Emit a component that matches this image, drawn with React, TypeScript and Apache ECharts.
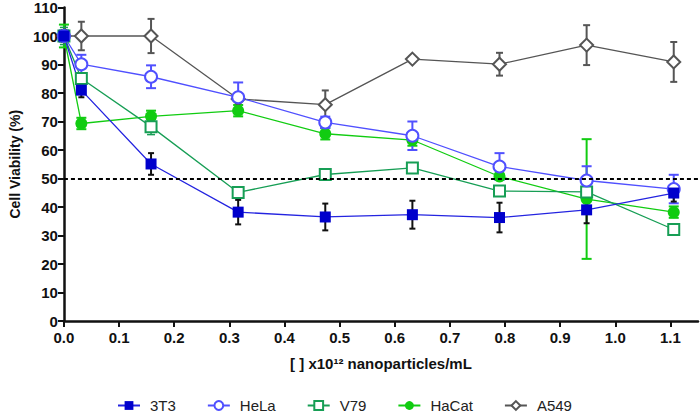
import React, { useEffect, useRef } from "react";
import * as echarts from "echarts";

const xs = [0, 0.0316, 0.158, 0.316, 0.474, 0.632, 0.79, 0.948, 1.106];
const xTicks = [0, 0.1, 0.2, 0.3, 0.4, 0.5, 0.6, 0.7, 0.8, 0.9, 1.0, 1.1];

const v3T3 = [100, 81.0, 55.1, 38.2, 36.5, 37.3, 36.3, 39.0, 44.9];
const e3T3 = [2, 2.5, 3.8, 4.3, 4.7, 4.9, 5.2, 4.7, 3];
const vHeLa = [100, 90.1, 85.7, 78.5, 69.7, 65.0, 54.2, 49.3, 46.3];
const eHeLa = [2, 3.3, 4, 5.2, 2, 5, 4.7, 5, 5];
const vV79 = [100, 85.1, 68.2, 45.1, 51.4, 53.7, 45.6, 45.3, 32.1];
const eV79 = [3, 1, 2.8, 1.5, 1, 1, 1.5, 1.5, 1];
const vHaCat = [100, 69.3, 71.8, 73.8, 65.7, 63.5, 50.7, 42.8, 38.2];
const eHaCat = [4, 2, 2, 2, 2, 2, 1, 21, 2];
const vA549 = [100, 100, 100, 77.9, 75.9, 91.9, 90.1, 96.8, 90.9];
const eA549 = [0, 5, 6, 1, 5, 1, 4, 7, 7];

const FONT = "'Liberation Sans', Arial, sans-serif";

function errSeries(name: string, vals: number[], errs: number[], color: string, cap: number, lw: number) {
  return {
    type: "custom",
    name: name + " err",
    z: 1,
    silent: true,
    data: xs.map((x, i) => [x, vals[i] - errs[i], vals[i] + errs[i]]).filter((d, i) => errs[i] > 0),
    encode: { x: 0, y: [1, 2] },
    renderItem: (params: any, api: any) => {
      const x = api.value(0);
      const p1 = api.coord([x, api.value(1)]);
      const p2 = api.coord([x, api.value(2)]);
      const h = cap / 2;
      const style = { stroke: color, lineWidth: lw };
      return {
        type: "group",
        children: [
          { type: "line", shape: { x1: p1[0], y1: p1[1], x2: p2[0], y2: p2[1] }, style },
          { type: "line", shape: { x1: p1[0] - h, y1: p1[1], x2: p1[0] + h, y2: p1[1] }, style },
          { type: "line", shape: { x1: p2[0] - h, y1: p2[1], x2: p2[0] + h, y2: p2[1] }, style },
        ],
      };
    },
  };
}

function lineSeries(name: string, vals: number[], lineColor: string, color: string, symbol: string, size: number, border: number, extra: any = {}) {
  return {
    type: "line",
    name,
    z: 3,
    data: xs.map((x, i) => [x, vals[i]]),
    symbol,
    symbolSize: size,
    showAllSymbol: true,
    lineStyle: { color: lineColor, width: 1.3 },
    itemStyle: { color, borderColor: color, borderWidth: border },
    ...extra,
  };
}

export default function App() {
  const ref = useRef<HTMLDivElement>(null);
  useEffect(() => {
    if (!ref.current) return;
    const chart = echarts.init(ref.current, undefined, { renderer: "svg" });
    chart.setOption({
      animation: false,
      backgroundColor: "#ffffff",
      grid: { left: 52, right: 2, top: 7, bottom: 97 },
      legend: {
        data: ["3T3", "HeLa", "V79", "HaCat", "A549"],
        bottom: 0,
        left: 112,
        itemWidth: 22,
        itemHeight: 11,
        itemGap: 31,
        textStyle: { fontFamily: FONT, fontSize: 15, color: "#222", padding: [0, 0, 0, 5] },
      },
      xAxis: {
        type: "value",
        min: 0,
        max: 1.15,
        name: "[ ] x10¹² nanoparticles/mL",
        nameLocation: "middle",
        nameGap: 35,
        nameTextStyle: { fontFamily: FONT, fontSize: 15, fontWeight: "bold", color: "#111" },
        axisLine: { lineStyle: { color: "#111", width: 2.5 } },
        axisTick: { show: true, length: 6, lineStyle: { color: "#111", width: 2 }, customValues: xTicks },
        axisLabel: {
          customValues: xTicks,
          formatter: (v: number) => v.toFixed(1),
          fontFamily: FONT,
          fontSize: 15,
          fontWeight: "bold",
          color: "#111",
          margin: 9,
        },
        splitLine: { show: false },
      },
      yAxis: {
        type: "value",
        min: 0,
        max: 110,
        interval: 10,
        name: "Cell Viability (%)",
        nameLocation: "middle",
        nameGap: 40,
        nameTextStyle: { fontFamily: FONT, fontSize: 14, fontWeight: "bold", color: "#111" },
        axisLine: { show: true, lineStyle: { color: "#111", width: 2.5 } },
        axisTick: { show: true, length: 6, lineStyle: { color: "#111", width: 2 } },
        axisLabel: { fontFamily: FONT, fontSize: 15, fontWeight: "bold", color: "#111", margin: 6 },
        splitLine: { show: false },
      },
      series: [
        errSeries("A549", vA549, eA549, "#555555", 7, 2),
        errSeries("HaCat", vHaCat, eHaCat, "#11CC11", 10, 2),
        errSeries("V79", vV79, eV79, "#179E55", 8, 1.5),
        errSeries("HeLa", vHeLa, eHeLa, "#5050FF", 10, 2),
        errSeries("3T3", v3T3, e3T3, "#111111", 6, 2),
        lineSeries("A549", vA549, "#555555", "#555555", "emptyDiamond", 13, 1.5, {
          markLine: {
            silent: true,
            symbol: "none",
            label: { show: false },
            lineStyle: { color: "#000", type: [4, 3], width: 2 },
            data: [{ yAxis: 50 }],
          },
        }),
        lineSeries("HaCat", vHaCat, "#11CC11", "#11CC11", "circle", 12, 0),
        lineSeries("V79", vV79, "#179E55", "#179E55", "emptyRect", 11, 1.8),
        lineSeries("HeLa", vHeLa, "#5050FF", "#5050FF", "emptyCircle", 12, 1.5),
        lineSeries("3T3", v3T3, "#2424E0", "#0000CC", "rect", 11, 0),
      ],
    });
    return () => chart.dispose();
  }, []);
  return <div ref={ref} style={{ position: "fixed", left: 0, top: 0, width: 700, height: 418 }} />;
}
